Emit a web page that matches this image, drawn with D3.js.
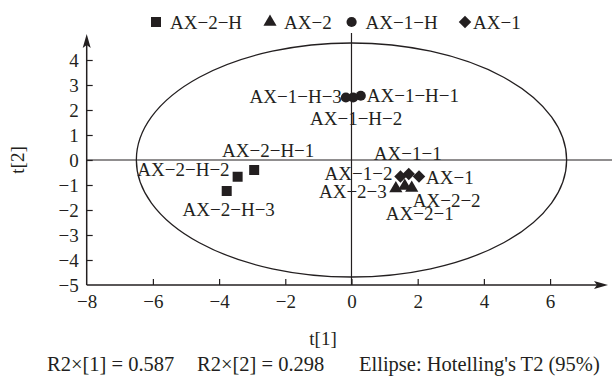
<!DOCTYPE html>
<html>
<head>
<meta charset="utf-8">
<script src="https://cdn.jsdelivr.net/npm/d3@7"></script>
<style>
  body { margin: 0; background: #fff; }
  text { font-family: "Liberation Serif", "Times New Roman", serif; fill: #231f20; }
</style>
</head>
<body>
<svg id="scores" width="612" height="377"></svg>
<script>
// groups shown in the legend, in order
const groups = ["AX−2−H", "AX−2", "AX−1−H", "AX−1"];

// samples (score plot t[1] vs t[2])
const sampleNames = [
  "AX−2−H−1", "AX−2−H−2", "AX−2−H−3",
  "AX−2−1", "AX−2−2", "AX−2−3",
  "AX−1−H−1", "AX−1−H−2", "AX−1−H−3",
  "AX−1−1", "AX−1−2", "AX−1"
];
const sampleGroup = [0, 0, 0, 1, 1, 1, 2, 2, 2, 3, 3, 3];
const t1Values = [-2.94, -3.44, -3.77, 1.61, 1.82, 1.34, 0.28, 0.05, -0.17, 1.73, 1.48, 2.04];
const t2Values = [-0.40, -0.67, -1.24, -1.04, -1.12, -1.14, 2.57, 2.50, 2.50, -0.56, -0.66, -0.66];

// Hotelling's T2 ellipse semi-axes
const ellipseT1 = 6.5;
const ellipseT2 = 4.68;

const xTicks = [-8, -6, -4, -2, 0, 2, 4, 6];
const yTicks = [-5, -4, -3, -2, -1, 0, 1, 2, 3, 4];
const footnotes = ["R2×[1] = 0.587", "R2×[2] = 0.298", "Ellipse: Hotelling's T2 (95%)"];

// label placement relative to each point (px)
const labelPos = {
  "AX−2−H−1": [14, -13, "middle"],
  "AX−2−H−2": [-8, -1, "end"],
  "AX−2−H−3": [2, 24.5, "middle"],
  "AX−2−1": [15, 33.5, "middle"],
  "AX−2−2": [1, 18.5, "start"],
  "AX−2−3": [-9, 9.5, "end"],
  "AX−1−H−1": [6, 6, "start"],
  "AX−1−H−2": [3, 27, "middle"],
  "AX−1−H−3": [-4, 5.5, "end"],
  "AX−1−1": [-1, -14.5, "middle"],
  "AX−1−2": [-8, 3, "end"],
  "AX−1": [7, 7.5, "start"]
};

var svg = d3.select("#scores"),
    ink = "#231f20",
    fontSize = 19;

var x = d3.scaleLinear().domain([-8, 7.75]).range([86.7, 608]);
var y = d3.scaleLinear().domain([-5, 5.04]).range([285, 34]);

var symbolFor = [
  d3.symbol().type(d3.symbolSquare).size(100),
  d3.symbol().type(d3.symbolTriangle).size(75),
  d3.symbol().type(d3.symbolCircle).size(82),
  d3.symbol().type(d3.symbolSquare).size(78)
];
var rotateFor = [0, 0, 0, 45];

// ellipse
svg.append("ellipse")
    .attr("cx", x(0))
    .attr("cy", y(0))
    .attr("rx", x(ellipseT1) - x(0))
    .attr("ry", y(0) - y(ellipseT2))
    .attr("fill", "none")
    .attr("stroke", ink)
    .attr("stroke-width", 1.3);

// zero lines
svg.append("line")
    .attr("x1", x(-8)).attr("x2", 612)
    .attr("y1", y(0)).attr("y2", y(0))
    .attr("stroke", ink).attr("stroke-width", 1.2);
svg.append("line")
    .attr("x1", x(0)).attr("x2", x(0))
    .attr("y1", y(-5)).attr("y2", y(5.08))
    .attr("stroke", ink).attr("stroke-width", 1.2);

// axes
var xAxis = d3.axisBottom(x).tickValues(xTicks).tickSizeInner(-6).tickSizeOuter(0).tickPadding(10)
    .tickFormat(d => d < 0 ? "−" + Math.abs(d) : d);
var yAxis = d3.axisLeft(y).tickValues(yTicks).tickSizeInner(-6).tickSizeOuter(0).tickPadding(8)
    .tickFormat(d => d < 0 ? "−" + Math.abs(d) : d);

var gx = svg.append("g").attr("transform", "translate(0," + y(-5) + ")").call(xAxis);
var gy = svg.append("g").attr("transform", "translate(" + x(-8) + ",0)").call(yAxis);

[gx, gy].forEach(g => {
  g.select(".domain").remove();
  g.selectAll(".tick line").attr("stroke", ink).attr("stroke-width", 1.2);
  g.selectAll(".tick text")
      .attr("font-family", "Liberation Serif")
      .attr("font-size", fontSize)
      .attr("fill", ink);
});
gx.selectAll(".tick").filter(d => d === -8).select("line").remove();
gy.selectAll(".tick").filter(d => d === -5).select("line").remove();
gy.selectAll(".tick text").attr("dy", "0.34em");

// axis lines with arrows
svg.append("line")
    .attr("x1", x(-8)).attr("x2", x(7.6))
    .attr("y1", y(-5)).attr("y2", y(-5))
    .attr("stroke", ink).attr("stroke-width", 1.5);
svg.append("line")
    .attr("x1", x(-8)).attr("x2", x(-8))
    .attr("y1", y(-5)).attr("y2", y(4.8))
    .attr("stroke", ink).attr("stroke-width", 1.5);
svg.append("path")
    .attr("d", "M" + x(7.75) + "," + y(-5) + "l-14,-4l3,4l-3,4z")
    .attr("fill", ink);
svg.append("path")
    .attr("d", "M" + x(-8) + "," + y(5.04) + "l-4,14l4,-3l4,3z")
    .attr("fill", ink);

// axis titles
svg.append("text")
    .attr("x", 323).attr("y", 345)
    .attr("text-anchor", "middle")
    .attr("font-size", fontSize)
    .text("t[1]");
svg.append("text")
    .attr("transform", "translate(24," + y(0) + ") rotate(-90)")
    .attr("text-anchor", "middle")
    .attr("font-size", fontSize)
    .text("t[2]");

// points
var samples = sampleNames.map((n, i) => ({ name: n, g: sampleGroup[i], t1: t1Values[i], t2: t2Values[i] }));

svg.append("g").selectAll("path")
    .data(samples)
    .enter().append("path")
    .attr("transform", d => "translate(" + x(d.t1) + "," + y(d.t2) + ") rotate(" + rotateFor[d.g] + ")")
    .attr("d", d => symbolFor[d.g]())
    .attr("fill", ink);

svg.append("g").selectAll("text")
    .data(samples)
    .enter().append("text")
    .attr("x", d => x(d.t1) + labelPos[d.name][0])
    .attr("y", d => y(d.t2) + labelPos[d.name][1])
    .attr("text-anchor", d => labelPos[d.name][2])
    .attr("font-size", fontSize)
    .text(d => d.name);

// legend
var legendX = [156, 270, 351.6, 465],
    legendY = 22;
var legend = svg.append("g").selectAll("g")
    .data(groups)
    .enter().append("g")
    .attr("transform", (d, i) => "translate(" + legendX[i] + "," + legendY + ")");
legend.append("path")
    .attr("transform", (d, i) => "rotate(" + rotateFor[i] + ")")
    .attr("d", (d, i) => symbolFor[i]())
    .attr("fill", ink);
legend.append("text")
    .attr("x", (d, i) => i === 3 ? 8 : 14)
    .attr("y", 6.5)
    .attr("font-size", fontSize)
    .text(d => d);

// footnote
var footX = [47, 197, 359];
svg.append("g").selectAll("text")
    .data(footnotes)
    .enter().append("text")
    .attr("x", (d, i) => footX[i])
    .attr("y", 371)
    .attr("font-size", 20.5)
    .text(d => d);
</script>
</body>
</html>
